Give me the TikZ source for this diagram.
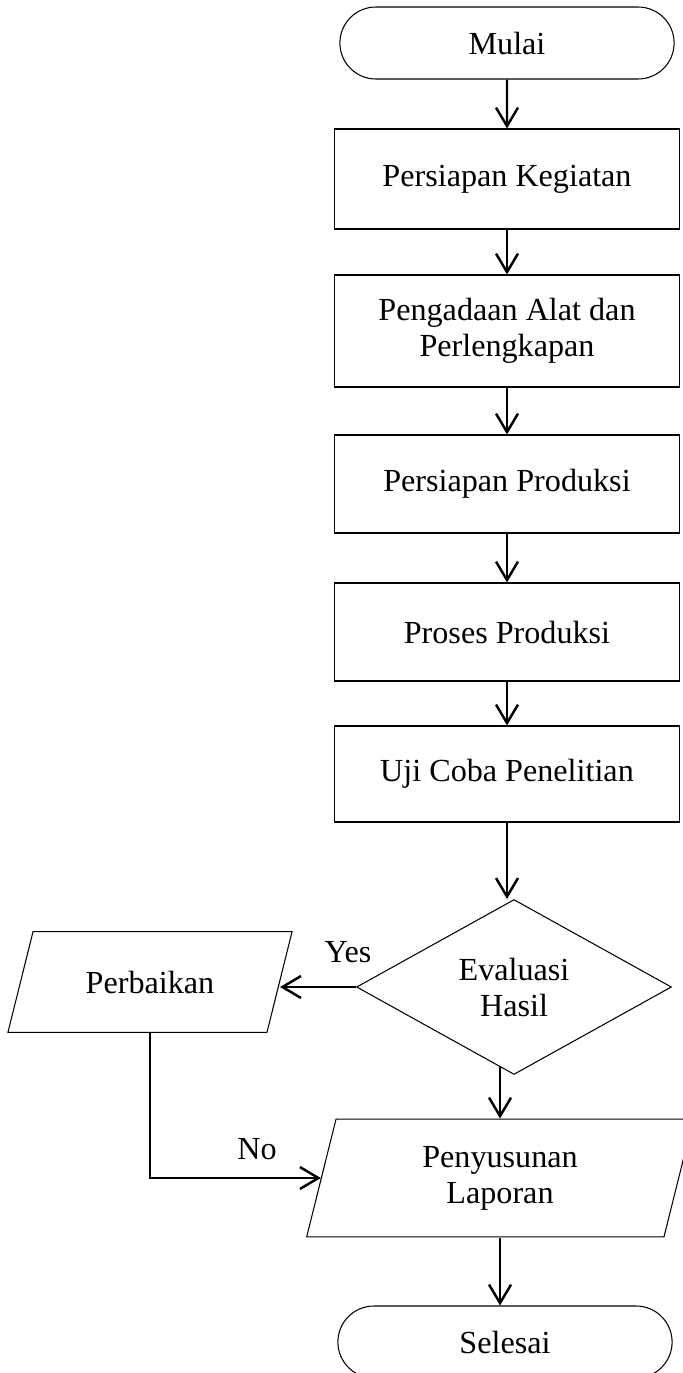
\documentclass[tikz,border=0pt]{standalone}
\usepackage{fontspec}
\setmainfont{Liberation Serif}
\usetikzlibrary{arrows.meta}
\usetikzlibrary{shapes.geometric,shapes.misc}

\begin{document}
\begin{tikzpicture} [x=0.02cm, y=-0.02cm, font=\fontsize{18.3}{20.5}\selectfont,
  kotak/.style={draw, line width=0.6pt, minimum width=6.92cm, inner sep=0, align=center},
  ujung/.style={draw, line width=0.6pt, rounded rectangle, minimum width=6.92cm, minimum height=1.44cm},
  jajar/.style={draw, line width=0.6pt, trapezium, trapezium left angle=76, trapezium right angle=104, inner xsep=0, align=center},
  panah/.style={line width=1.4pt, -{Straight Barb[length=0.37cm, width=0.44cm]}}]
\useasboundingbox (0,0) rectangle (683,1373);
\node[ujung] (mulai) at (507,43) {Mulai};
\node[kotak, minimum height=2cm] (siap) at (507,179) {Persiapan Kegiatan};
\node[kotak, minimum height=2.24cm] (alat) at (507,331) {Pengadaan Alat dan\\Perlengkapan};
\node[kotak, minimum height=1.96cm] (prod) at (507,484) {Persiapan Produksi};
\node[kotak, minimum height=1.96cm] (proses) at (507,632) {Proses Produksi};
\node[kotak, minimum height=1.92cm] (uji) at (507,774) {Uji Coba Penelitian};
\node[draw, line width=0.6pt, diamond, aspect=1.8, minimum width=6.3cm, minimum height=3.5cm, inner sep=0, align=center] (eval) at (514,987) {Evaluasi\\Hasil};
\node[jajar, text width=4.68cm, inner ysep=0.78cm] (baik) at (150,982) {Perbaikan};
\node[jajar, text width=6.56cm, inner ysep=0.54cm] (lapor) at (500,1178) {Penyusunan\\Laporan};
\node[ujung] (selesai) at (505,1342) {Selesai};
\node (ya) at (348,952) {Yes};
\node (tidak) at (257,1149) {No};

\foreach \a/\b in {mulai/siap, siap/alat, alat/prod, prod/proses, proses/uji}
  \draw[panah] (\a) -- (\b);
\draw[panah] (uji.south) -- (uji.south |- eval.north);
\draw[panah] (eval.west) -- (eval.west -| baik.east);
\draw[panah] (lapor.north |- eval.258) -- (lapor.north);
\draw[panah] (baik.south) |- (lapor.west);
\draw[panah] (lapor.south) -- (lapor.south |- selesai.north);
\end{tikzpicture}
\end{document}
